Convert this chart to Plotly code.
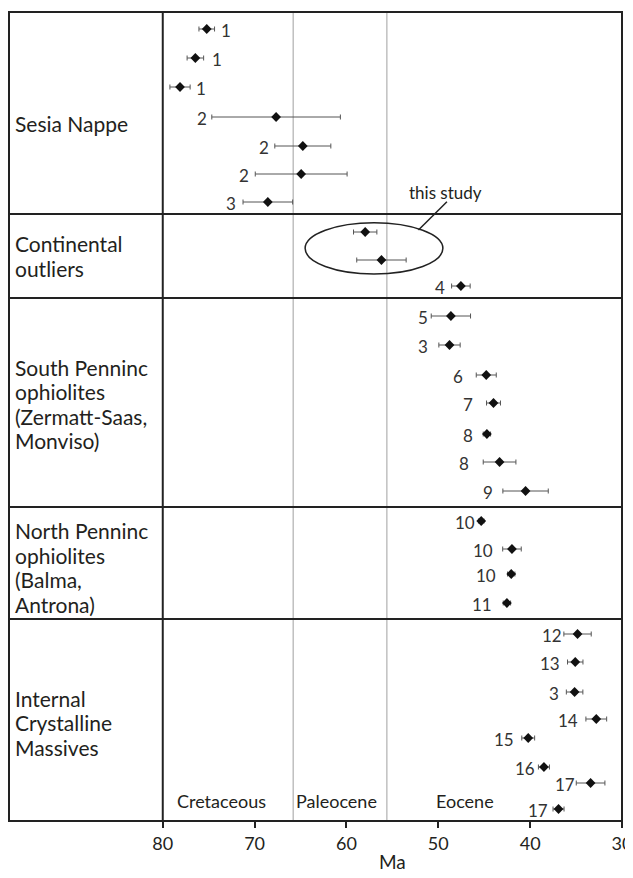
import plotly.graph_objects as go

# ---------------- data ----------------
# age (Ma), symmetric uncertainty (Ma), reference number, row order (top→bottom)
sesia_age = [75.21, 76.45, 78.12, 67.66, 64.75, 64.93, 68.56]
sesia_err = [0.85, 0.9, 1.1, 7.0, 3.05, 5.0, 2.7]
sesia_ref = ["1", "1", "1", "2", "2", "2", "3"]

outlier_age = [57.96, 56.19, 47.54]
outlier_err = [1.27, 2.69, 1.01]
outlier_ref = ["", "", "4"]

south_age = [48.63, 48.78, 44.78, 43.99, 44.71, 43.33, 40.50]
south_err = [2.14, 1.16, 1.09, 0.76, 0.4, 1.78, 2.47]
south_ref = ["5", "3", "6", "7", "8", "8", "9"]

north_age = [45.33, 41.98, 42.06, 42.53]
north_err = [0.3, 1.01, 0.4, 0.4]
north_ref = ["10", "10", "10", "11"]

icm_age = [34.84, 35.09, 35.16, 32.80, 40.21, 38.50, 33.42, 36.91]
icm_err = [1.49, 0.84, 0.9, 1.13, 0.7, 0.6, 1.56, 0.6]
icm_ref = ["12", "13", "3", "14", "15", "16", "17", "17"]

group_lines = [
    ["Sesia Nappe"],
    ["Continental", "outliers"],
    ["South Penninc", "ophiolites", "(Zermatt-Saas,", "Monviso)"],
    ["North Penninc", "ophiolites", "(Balma,", "Antrona)"],
    ["Internal", "Crystalline", "Massives"],
]
period_names = ["Cretaceous", "Paleocene", "Eocene"]
period_bounds = [65.8, 55.6]          # K/Pg and Paleocene/Eocene lines as drawn
tick_vals = [80, 70, 60, 50, 40, 30]

# ---------------- layout helpers (vertical row slots) ----------------
row_y = [29, 58, 87, 117, 146, 174, 202,
         232, 260, 286,
         316, 345, 375, 403, 434, 462, 491,
         521, 549, 574, 603,
         634, 662, 692, 719, 738, 767, 783, 809]
group_center_y = [123, 256, 404, 567.5, 722.8]
line_gap = 24.4
separator_y = [214, 298, 507, 619]
label_ma = [73.10, 74.12, 75.83, 75.75, 68.93, 71.14, 72.56,
            None, None, 49.79,
            51.72, 51.68, 47.91, 46.82, 46.82, 47.15, 44.60,
            47.07, 45.08, 44.82, 45.19,
            37.63, 37.89, 37.37, 35.88, 42.90, 40.61, 36.18, 39.15]

ages = sesia_age + outlier_age + south_age + north_age + icm_age
errs = sesia_err + outlier_err + south_err + north_err + icm_err
refs = sesia_ref + outlier_ref + south_ref + north_ref + icm_ref

FONT = "Lato, 'Open Sans', sans-serif"
TXT = "#231f20"
X_LEFT = 96.74

fig = go.Figure()
fig.add_trace(go.Scatter(
    x=ages, y=row_y, mode="markers",
    marker=dict(symbol="diamond", size=7.5, color="#111"),
    error_x=dict(type="data", array=errs, symmetric=True,
                 color="#555", thickness=1, width=2.5),
    showlegend=False, hoverinfo="x",
))

shapes = []
for b in period_bounds:
    shapes.append(dict(type="line", xref="x", yref="paper", x0=b, x1=b, y0=0, y1=1,
                       line=dict(color="#b0b0b0", width=1.2), layer="below"))
for sy in separator_y:
    shapes.append(dict(type="line", xref="paper", yref="y", x0=0, x1=1, y0=sy, y1=sy,
                       line=dict(color="#222", width=2)))
shapes.append(dict(type="line", xref="x", yref="paper", x0=80, x1=80, y0=0, y1=1,
                   line=dict(color="#222", width=2)))
shapes.append(dict(type="rect", xref="paper", yref="paper", x0=0, x1=1, y0=0, y1=1,
                   line=dict(color="#222", width=2)))
shapes.append(dict(type="circle", xref="x", yref="y", x0=64.5, x1=49.5, y0=222.7, y1=274,
                   line=dict(color="#222", width=1.5)))
shapes.append(dict(type="line", xref="x", yref="y", x0=49.06, x1=52.16, y0=201.7, y1=230,
                   line=dict(color="#222", width=1.5)))

ann = []
for lines, cy in zip(group_lines, group_center_y):
    n = len(lines)
    for i, t in enumerate(lines):
        yy = cy + (i - (n - 1) / 2) * line_gap
        ann.append(dict(x=0.007, xref="paper", y=yy, yref="y", text=t, showarrow=False,
                        xanchor="left", yanchor="middle", align="left",
                        font=dict(family=FONT, size=21, color=TXT)))
for lx, ly, t in zip(label_ma, row_y, refs):
    if lx is None or not t:
        continue
    ann.append(dict(x=lx, y=ly + 1, xref="x", yref="y", text=t, showarrow=False,
                    xanchor="center", yanchor="middle",
                    font=dict(family=FONT, size=17, color="#333")))
period_x = [73.57, 61.12, 47.07]
for p, px in zip(period_names, period_x):
    ann.append(dict(x=px, y=801, xref="x", yref="y", text=p, showarrow=False,
                    xanchor="center", yanchor="middle",
                    font=dict(family=FONT, size=18, color=TXT)))
ann.append(dict(x=49.2, y=192.7, xref="x", yref="y", text="this study", showarrow=False,
                xanchor="center", yanchor="middle",
                font=dict(family=FONT, size=17, color=TXT)))
ann.append(dict(x=55.0, y=-0.05, xref="x", yref="paper", text="Ma", showarrow=False,
                xanchor="center", yanchor="middle",
                font=dict(family=FONT, size=19, color=TXT)))

# the page body has an 8px margin, so the figure is sized/offset to land on the target pixels
fig.update_layout(
    width=625, height=870,
    margin=dict(l=1, r=11, t=4, b=57),
    paper_bgcolor="white", plot_bgcolor="white",
    shapes=shapes, annotations=ann,
    xaxis=dict(range=[X_LEFT, 30], tickvals=tick_vals, ticks="outside", ticklen=6,
               tickwidth=1.5, tickcolor="#222", showgrid=False, zeroline=False,
               showline=False, tickfont=dict(family=FONT, size=18, color=TXT)),
    yaxis=dict(range=[821, 12], showticklabels=False, showgrid=False, zeroline=False,
               showline=False, ticks=""),
)

fig.write_html("out.html")
